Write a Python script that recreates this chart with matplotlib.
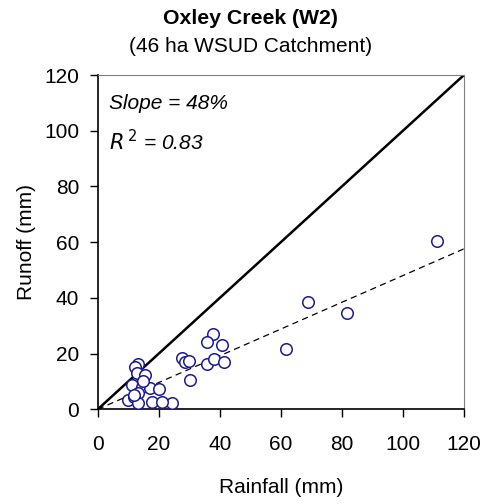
import matplotlib
matplotlib.use("Agg")
import matplotlib.pyplot as plt
import numpy as np

plt.rcParams['font.family'] = ['Liberation Sans', 'DejaVu Sans']

rainfall = [111.2, 81.7, 68.9, 61.7, 37.8, 35.7, 40.8, 27.5, 28.6, 30.0, 35.7, 38.2,
            41.5, 30.2, 24.2, 13.3, 12.2, 13.0, 15.5, 11.1, 14.4, 13.3, 17.1, 20.2,
            10.0, 11.9, 13.3, 17.7, 21.0, 14.7, 11.7]
runoff = [60.3, 34.6, 38.6, 21.7, 27.1, 24.0, 23.1, 18.3, 16.8, 17.5, 16.2, 18.0,
          16.8, 10.5, 2.2, 16.3, 15.3, 12.9, 12.3, 8.7, 8.1, 5.8, 7.6, 7.2,
          3.3, 4.5, 2.4, 2.7, 2.7, 10.3, 5.1]
slope = 0.48
r2 = 0.83
ticks = [0, 20, 40, 60, 80, 100, 120]

fig = plt.figure(figsize=(4.94, 5.04), dpi=100)
ax = fig.add_axes([0.198, 0.188, 0.741, 0.663])

ax.plot([0, 120], [0, 120], color='black', lw=1.8, zorder=2)
xl = np.array([0, 120])
ax.plot(xl, slope * xl, color='black', lw=0.9, dashes=(5, 3.5), zorder=2)
ax.plot(rainfall, runoff, linestyle='none', marker='o', markersize=8.3,
        markerfacecolor='white', markeredgecolor='#1a1a99', markeredgewidth=1.1, zorder=3)

ax.set_xlim(0, 120)
ax.set_ylim(0, 120)
ax.set_xticks(ticks)
ax.set_yticks(ticks)
ax.tick_params(direction='out', length=5.5, width=1, labelsize=15, pad=13, axis='x')
ax.tick_params(direction='out', length=5.5, width=1, labelsize=15, pad=8, axis='y')
for s in ['top', 'right']:
    ax.spines[s].set_color('#808080')
for s in ['left', 'bottom']:
    ax.spines[s].set_color('black')
    ax.spines[s].set_linewidth(1.2)

ax.set_xlabel('Rainfall (mm)', fontsize=15, labelpad=17)
ax.set_ylabel('Runoff (mm)', fontsize=15, labelpad=6)

fig.text(0.507, 1 - 18 / 504, 'Oxley Creek (W2)', fontsize=15.3, fontweight='bold',
         ha='center', va='center')
fig.text(0.508, 1 - 47 / 504, '(46 ha WSUD Catchment)', fontsize=15,
         ha='center', va='center')

ax.text(0.03, 0.915, 'Slope = 48%', transform=ax.transAxes, fontsize=15,
        style='italic', ha='left', va='center')
ax.text(0.03, 0.80, r'$\mathit{R}^{\,2}$' + ' = 0.83', transform=ax.transAxes, fontsize=15,
        style='italic', ha='left', va='center')

fig.savefig('out.png', dpi=100)
